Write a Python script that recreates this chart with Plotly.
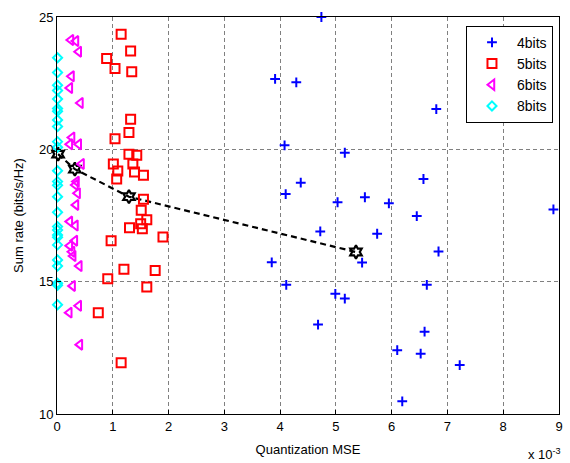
import plotly.graph_objects as go
import numpy as np

# x values in units of 1e-3
b4_x = [4.74, 3.91, 4.29, 4.08, 5.16, 4.37, 4.10, 5.52, 6.57, 6.80, 5.03, 5.95, 6.45, 4.72, 5.74,
        3.85, 5.47, 4.11, 6.63, 4.99, 5.16, 4.68, 6.59, 6.10, 6.52, 6.19, 6.84, 8.90, 7.22]
b4_y = [25.0, 22.66, 22.53, 20.15, 19.87, 18.74, 18.31, 18.19, 18.88, 21.52, 18.0, 17.96, 17.48, 16.90, 16.81,
        15.73, 15.72, 14.88, 14.88, 14.54, 14.36, 13.38, 13.11, 12.41, 12.28, 10.48, 16.14, 17.73, 11.85]

b5_x = [1.15, 1.32, 0.89, 1.04, 1.34, 1.32, 1.29, 1.04, 1.29, 1.43, 1.01, 1.36, 1.09, 1.39, 1.55, 1.07,
        1.55, 1.51, 1.61, 1.50, 1.30, 1.53, 1.90, 0.97, 1.20, 1.76, 0.91, 1.61, 0.74, 1.15]
b5_y = [24.35, 23.72, 23.43, 23.05, 22.93, 21.14, 20.64, 20.40, 19.81, 19.78, 19.45, 19.45, 19.18, 19.14, 19.02, 18.88,
        18.11, 17.70, 17.34, 17.19, 17.04, 17.00, 16.69, 16.55, 15.47, 15.42, 15.11, 14.80, 13.83, 11.94]

b6_x = [0.25, 0.34, 0.39, 0.26, 0.23, 0.42, 0.27, 0.23, 0.39, 0.44, 0.35, 0.33, 0.37, 0.34, 0.23,
        0.33, 0.32, 0.23, 0.27, 0.29, 0.40, 0.28, 0.39, 0.22, 0.41]
b6_y = [24.13, 24.09, 23.69, 22.76, 22.32, 21.75, 20.45, 20.19, 20.19, 19.45, 18.78, 18.65, 18.34, 17.90, 17.27,
        17.12, 16.55, 16.36, 16.13, 15.97, 15.59, 14.84, 14.09, 13.83, 12.62]

b8_x = [0.01, 0.01, 0.01, 0.01, 0.01, 0.01, 0.01, 0.01, 0.01, 0.01, 0.01, 0.01, 0.01, 0.01, 0.01,
        0.01, 0.01, 0.01, 0.01, 0.01, 0.01, 0.01, 0.01, 0.01, 0.01, 0.01]
b8_y = [23.46, 22.90, 22.42, 22.22, 21.90, 21.54, 21.44, 21.11, 20.86, 20.29, 20.08, 19.19, 18.78, 18.64, 18.21,
        17.62, 17.08, 16.95, 16.76, 16.68, 16.39, 15.82, 15.59, 14.94, 14.86, 14.13]

avg_x = [0.02, 0.32, 1.29, 5.36]
avg_y = [19.82, 19.25, 18.21, 16.12]

x_ticks = [0, 1, 2, 3, 4, 5, 6, 7, 8, 9]
y_ticks = [10, 15, 20, 25]
scale = 1e-3

def sc(a):
    return list(np.array(a) * scale)

FONT = "Liberation Sans, Arial, sans-serif"
fig = go.Figure()

fig.add_trace(go.Scatter(x=sc(avg_x), y=avg_y, mode="lines+markers", showlegend=False,
                         line=dict(color="black", width=2.2, dash="6px,4px"),
                         marker=dict(symbol="hexagram-open", size=10, color="black", line=dict(width=2.2, color="black")),
                         cliponaxis=False))
fig.add_trace(go.Scatter(x=sc(b4_x), y=b4_y, mode="markers", name="4bits",
                         marker=dict(symbol="cross-thin", size=7, color="blue", line=dict(width=2, color="blue")),
                         cliponaxis=False))
fig.add_trace(go.Scatter(x=sc(b5_x), y=b5_y, mode="markers", name="5bits",
                         marker=dict(symbol="square-open", size=9, color="red", line=dict(width=2, color="red")),
                         cliponaxis=False))
fig.add_trace(go.Scatter(x=sc(b6_x), y=b6_y, mode="markers", name="6bits",
                         marker=dict(symbol="triangle-left-open", size=9, color="magenta", line=dict(width=2, color="magenta")),
                         cliponaxis=False))
fig.add_trace(go.Scatter(x=sc(b8_x), y=b8_y, mode="markers", name="8bits",
                         marker=dict(symbol="diamond-open", size=7, color="cyan", line=dict(width=2, color="cyan")),
                         cliponaxis=False))

fig.update_layout(
    width=570, height=463,
    margin=dict(l=57, r=7, t=17, b=49),
    paper_bgcolor="white", plot_bgcolor="white",
    font=dict(family=FONT, size=12, color="black"),
    legend=dict(x=0.988, y=0.978, xanchor="right", yanchor="top",
                bgcolor="white", bordercolor="black", borderwidth=1,
                font=dict(size=14, family=FONT), tracegroupgap=0, itemwidth=40),
    xaxis=dict(range=[0, 9 * scale], tickvals=sc(x_ticks), ticktext=[str(t) for t in x_ticks],
               showline=True, mirror=True, linecolor="black", linewidth=1,
               showgrid=True, gridcolor="#808080", griddash="4px,3px", gridwidth=1,
               zeroline=False, ticks="inside", ticklen=4, tickcolor="black",
               title=dict(text="Quantization MSE", font=dict(size=13), standoff=12),
               tickfont=dict(size=13)),
    yaxis=dict(range=[10, 25], tickvals=y_ticks,
               showline=True, mirror=True, linecolor="black", linewidth=1,
               showgrid=True, gridcolor="#808080", griddash="4px,3px", gridwidth=1,
               zeroline=False, ticks="inside", ticklen=4, tickcolor="black",
               title=dict(text="Sum rate (bits/s/Hz)", font=dict(size=13), standoff=12),
               tickfont=dict(size=13)),
)

fig.add_annotation(text="x 10<sup>-3</sup>", xref="paper", yref="paper", x=1.008, y=-0.125,
                   xanchor="right", yanchor="bottom", showarrow=False, font=dict(size=13, family=FONT))

fig.write_html("out.html")
